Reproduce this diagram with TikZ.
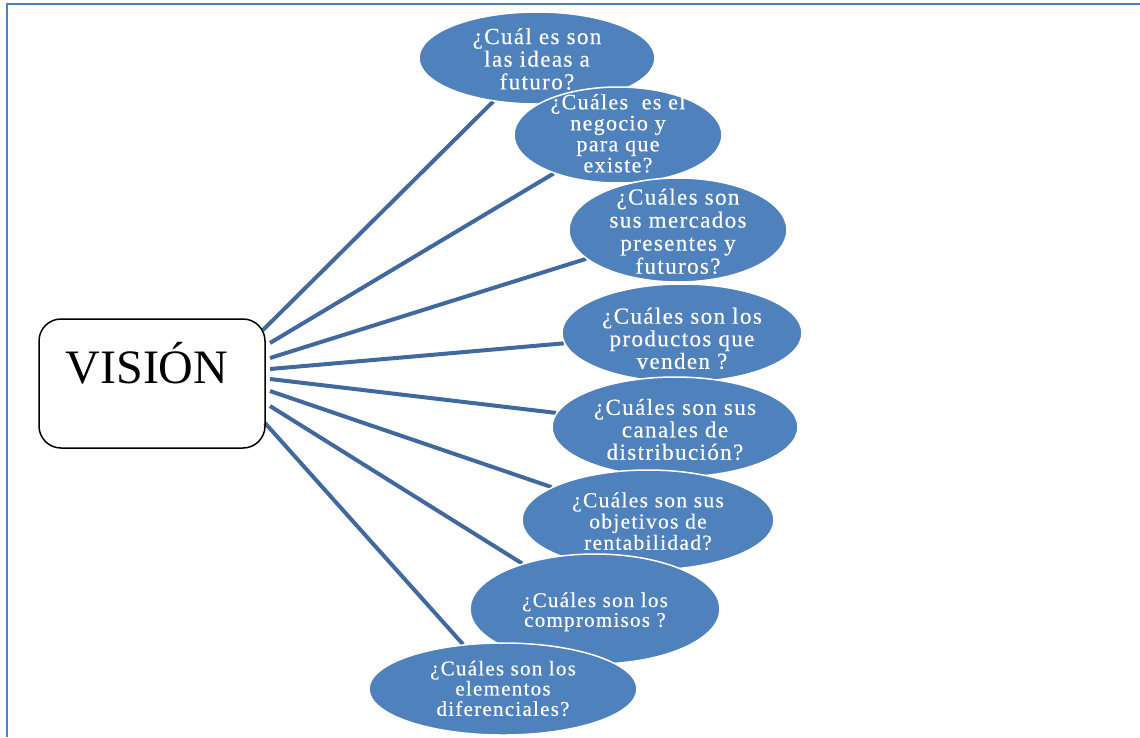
\documentclass[tikz,border=0pt]{standalone}
\usepackage{fontspec}
\setmainfont{Liberation Serif}
\newfontfamily\qfont[LetterSpace=6,FakeBold=0.4]{Liberation Serif}
\usetikzlibrary{shapes.geometric}
\pgfdeclarelayer{bg}
\pgfsetlayers{bg,main}
\definecolor{efill}{HTML}{4F81BD}
\definecolor{lcol}{HTML}{41699E}
\definecolor{fcol}{HTML}{4F81BD}
% #1 size, #2 line skip, #3 downward shift, #4 lines
\newcommand\qtxt[4]{{\fontsize{#1}{#2}\selectfont\qfont
  \smash{\makebox[0pt]{\raisebox{\dimexpr-0.25em-#3pt\relax}{\begin{tabular}{@{}c@{}}#4\end{tabular}}}}}}
\tikzset{
  qell/.style={ellipse, fill=efill, draw=white, line width=1.5pt, inner sep=0pt, text=white},
  conn/.style={draw=lcol, line width=4pt},
  vbox/.style={draw=black, line width=1.5pt, rounded corners=22pt, inner sep=0pt,
    minimum width=226pt, minimum height=129pt},
  frame/.style={draw=fcol, line width=2.5pt}
}
\begin{document}
\begin{tikzpicture}[x=1pt,y=-1pt]
\useasboundingbox (0,0) rectangle (1140,737);
\draw[frame] (7,737) -- (7,4) -- (1140,4);
% central box
\node[vbox] (v) at (152,383.5) {\fontsize{48}{56}\selectfont\smash{\makebox[0pt]{\kern-10pt VISIÓN}}};
% start points of the connectors
\coordinate (s1) at (263,330);
\coordinate (s2) at (270,343);
\coordinate (s3) at (270,358);
\coordinate (s4) at (270,369);
\coordinate (s5) at (270,379);
\coordinate (s6) at (270,391);
\coordinate (s7) at (270,406);
\coordinate (s8) at (265,423);
% question ellipses
\node[qell, minimum width=236pt, minimum height=92pt] (e1) at (537,58)
  {\qtxt{23}{22}{4.5}{¿Cuál es son\\las ideas a\\futuro?}};
\node[qell, minimum width=208pt, minimum height=96pt] (e2) at (618,135)
  {\qtxt{22}{21}{1}{¿Cuáles\ \ es el\\negocio y\\para que\\existe?}};
\node[qell, minimum width=218pt, minimum height=104pt] (e3) at (678,230)
  {\qtxt{23}{23}{5}{¿Cuáles son\\sus mercados\\presentes y\\futuros?}};
\node[qell, minimum width=240pt, minimum height=98pt] (e4) at (682,333)
  {\qtxt{23}{22}{9}{¿Cuáles son los\\productos que\\venden ?}};
\node[qell, minimum width=246pt, minimum height=100pt] (e5) at (675,427)
  {\qtxt{23}{21.5}{6}{¿Cuáles son sus\\canales de\\distribución?}};
\node[qell, minimum width=252pt, minimum height=100pt] (e6) at (648,520)
  {\qtxt{21.5}{21}{4}{¿Cuáles son sus\\objetivos de\\rentabilidad?}};
\node[qell, minimum width=250pt, minimum height=110pt] (e7) at (595,609)
  {\qtxt{21}{19.5}{3.5}{¿Cuáles son los\\compromisos ?}};
\node[qell, minimum width=268pt, minimum height=92pt] (e8) at (503,689)
  {\qtxt{21}{18.5}{2}{¿Cuáles son los\\elementos\\diferenciales?}};
% connectors
\begin{pgfonlayer}{bg}
\foreach \i in {1,...,8} { \draw[conn] (s\i) -- (e\i); }
\end{pgfonlayer}
\end{tikzpicture}
\end{document}
